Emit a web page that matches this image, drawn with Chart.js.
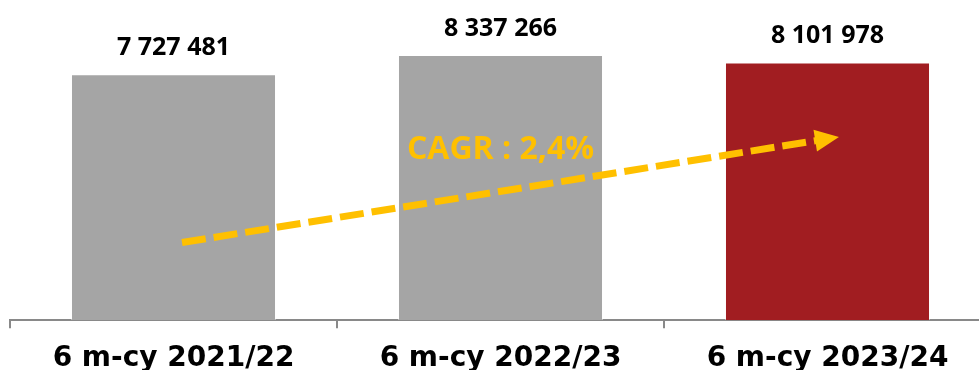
<!DOCTYPE html>
<html>
<head>
<meta charset="utf-8">
<script src="https://cdn.jsdelivr.net/npm/chart.js@4"></script>
<style>
  html, body { margin: 0; padding: 0; background: #fff; overflow: hidden; width: 979px; height: 370px; }
  #wrap { position: relative; width: 991px; height: 370px; }
</style>
</head>
<body>
<div id="wrap"><canvas id="c"></canvas></div>
<script>
// Half-year passenger totals
const categories = ['6 m-cy 2021/22', '6 m-cy 2022/23', '6 m-cy 2023/24'];
const passengers = [7727481, 8337266, 8101978];
const barColors = ['#A5A5A5', '#A5A5A5', '#A11D21'];
const yRange = [0, 10000000];

// Trend arrow ends, in (category index, value) space
const trendFrom = [0.026, 2440000];
const trendTo = [2.035, 5760000];
// CAGR caption anchor, in (category index, value) space
const cagrAnchor = [1.0, 5340000];

const first = passengers[0], last = passengers[passengers.length - 1];
const cagr = Math.pow(last / first, 1 / (passengers.length - 1)) - 1;
const cagrText = 'CAGR : ' + (cagr * 100).toFixed(1).replace('.', ',') + '%';

function spaced(n) {
  return String(n).replace(/\B(?=(\d{3})+(?!\d))/g, ' ');
}

const valueLabels = {
  id: 'valueLabels',
  afterDatasetsDraw(chart) {
    const ctx = chart.ctx;
    const meta = chart.getDatasetMeta(0);
    ctx.save();
    ctx.font = 'bold 25px "Open Sans"';
    ctx.fillStyle = '#000';
    ctx.textAlign = 'center';
    ctx.textBaseline = 'alphabetic';
    meta.data.forEach((bar, i) => {
      ctx.fillText(spaced(passengers[i]), bar.x, bar.y - 19);
    });
    ctx.restore();
  }
};

const trendArrow = {
  id: 'trendArrow',
  afterDatasetsDraw(chart) {
    const ctx = chart.ctx;
    const xs = chart.scales.x, ys = chart.scales.y;
    const x0 = xs.getPixelForValue(trendFrom[0]), y0 = ys.getPixelForValue(trendFrom[1]);
    const x1 = xs.getPixelForValue(trendTo[0]), y1 = ys.getPixelForValue(trendTo[1]);
    const len = Math.hypot(x1 - x0, y1 - y0);
    const ux = (x1 - x0) / len, uy = (y1 - y0) / len;
    const headLen = 24, headHalf = 11;
    const bx = x1 - ux * headLen, by = y1 - uy * headLen;

    ctx.save();
    ctx.strokeStyle = '#FFC000';
    ctx.fillStyle = '#FFC000';
    ctx.lineWidth = 7;
    ctx.lineCap = 'butt';
    ctx.setLineDash([24, 8]);
    ctx.beginPath();
    ctx.moveTo(x0, y0);
    ctx.lineTo(bx + ux * 2, by + uy * 2);
    ctx.stroke();
    ctx.setLineDash([]);
    ctx.beginPath();
    ctx.moveTo(x1, y1);
    ctx.lineTo(bx - uy * headHalf, by + ux * headHalf);
    ctx.lineTo(bx + uy * headHalf, by - ux * headHalf);
    ctx.closePath();
    ctx.fill();

    ctx.font = 'bold 32px "Open Sans"';
    ctx.textAlign = 'center';
    ctx.textBaseline = 'middle';
    ctx.fillText(cagrText, xs.getPixelForValue(cagrAnchor[0]), ys.getPixelForValue(cagrAnchor[1]));
    ctx.restore();
  }
};

function draw() {
  new Chart(document.getElementById('c'), {
    type: 'bar',
    data: {
      labels: categories,
      datasets: [{
        data: passengers,
        backgroundColor: barColors,
        borderColor: 'rgba(255,255,255,0.45)',
        borderWidth: 1,
        categoryPercentage: 1,
        barPercentage: 0.627
      }]
    },
    options: {
      responsive: true,
      maintainAspectRatio: false,
      animation: false,
      layout: { padding: { top: 2, left: 10, right: 0, bottom: -19 } },
      plugins: { legend: { display: false }, tooltip: { enabled: false } },
      scales: {
        x: {
          grid: { drawOnChartArea: false, drawTicks: true, tickLength: 8, color: '#898989', lineWidth: 2 },
          border: { display: true, color: '#898989', width: 2 },
          ticks: {
            color: '#000',
            padding: 15,
            maxRotation: 0,
            autoSkip: false,
            font: { family: 'DejaVu Sans', weight: 'bold', size: 28, lineHeight: 1.1 }
          }
        },
        y: {
          display: false,
          min: yRange[0],
          max: yRange[1]
        }
      }
    },
    plugins: [valueLabels, trendArrow]
  });
}

const fontLoads = ['bold 25px "Open Sans"', 'bold 32px "Open Sans"', 'bold 28px "DejaVu Sans"'].map(f => document.fonts.load(f).catch(() => null));
Promise.all(fontLoads).then(draw, draw);
</script>
</body>
</html>
